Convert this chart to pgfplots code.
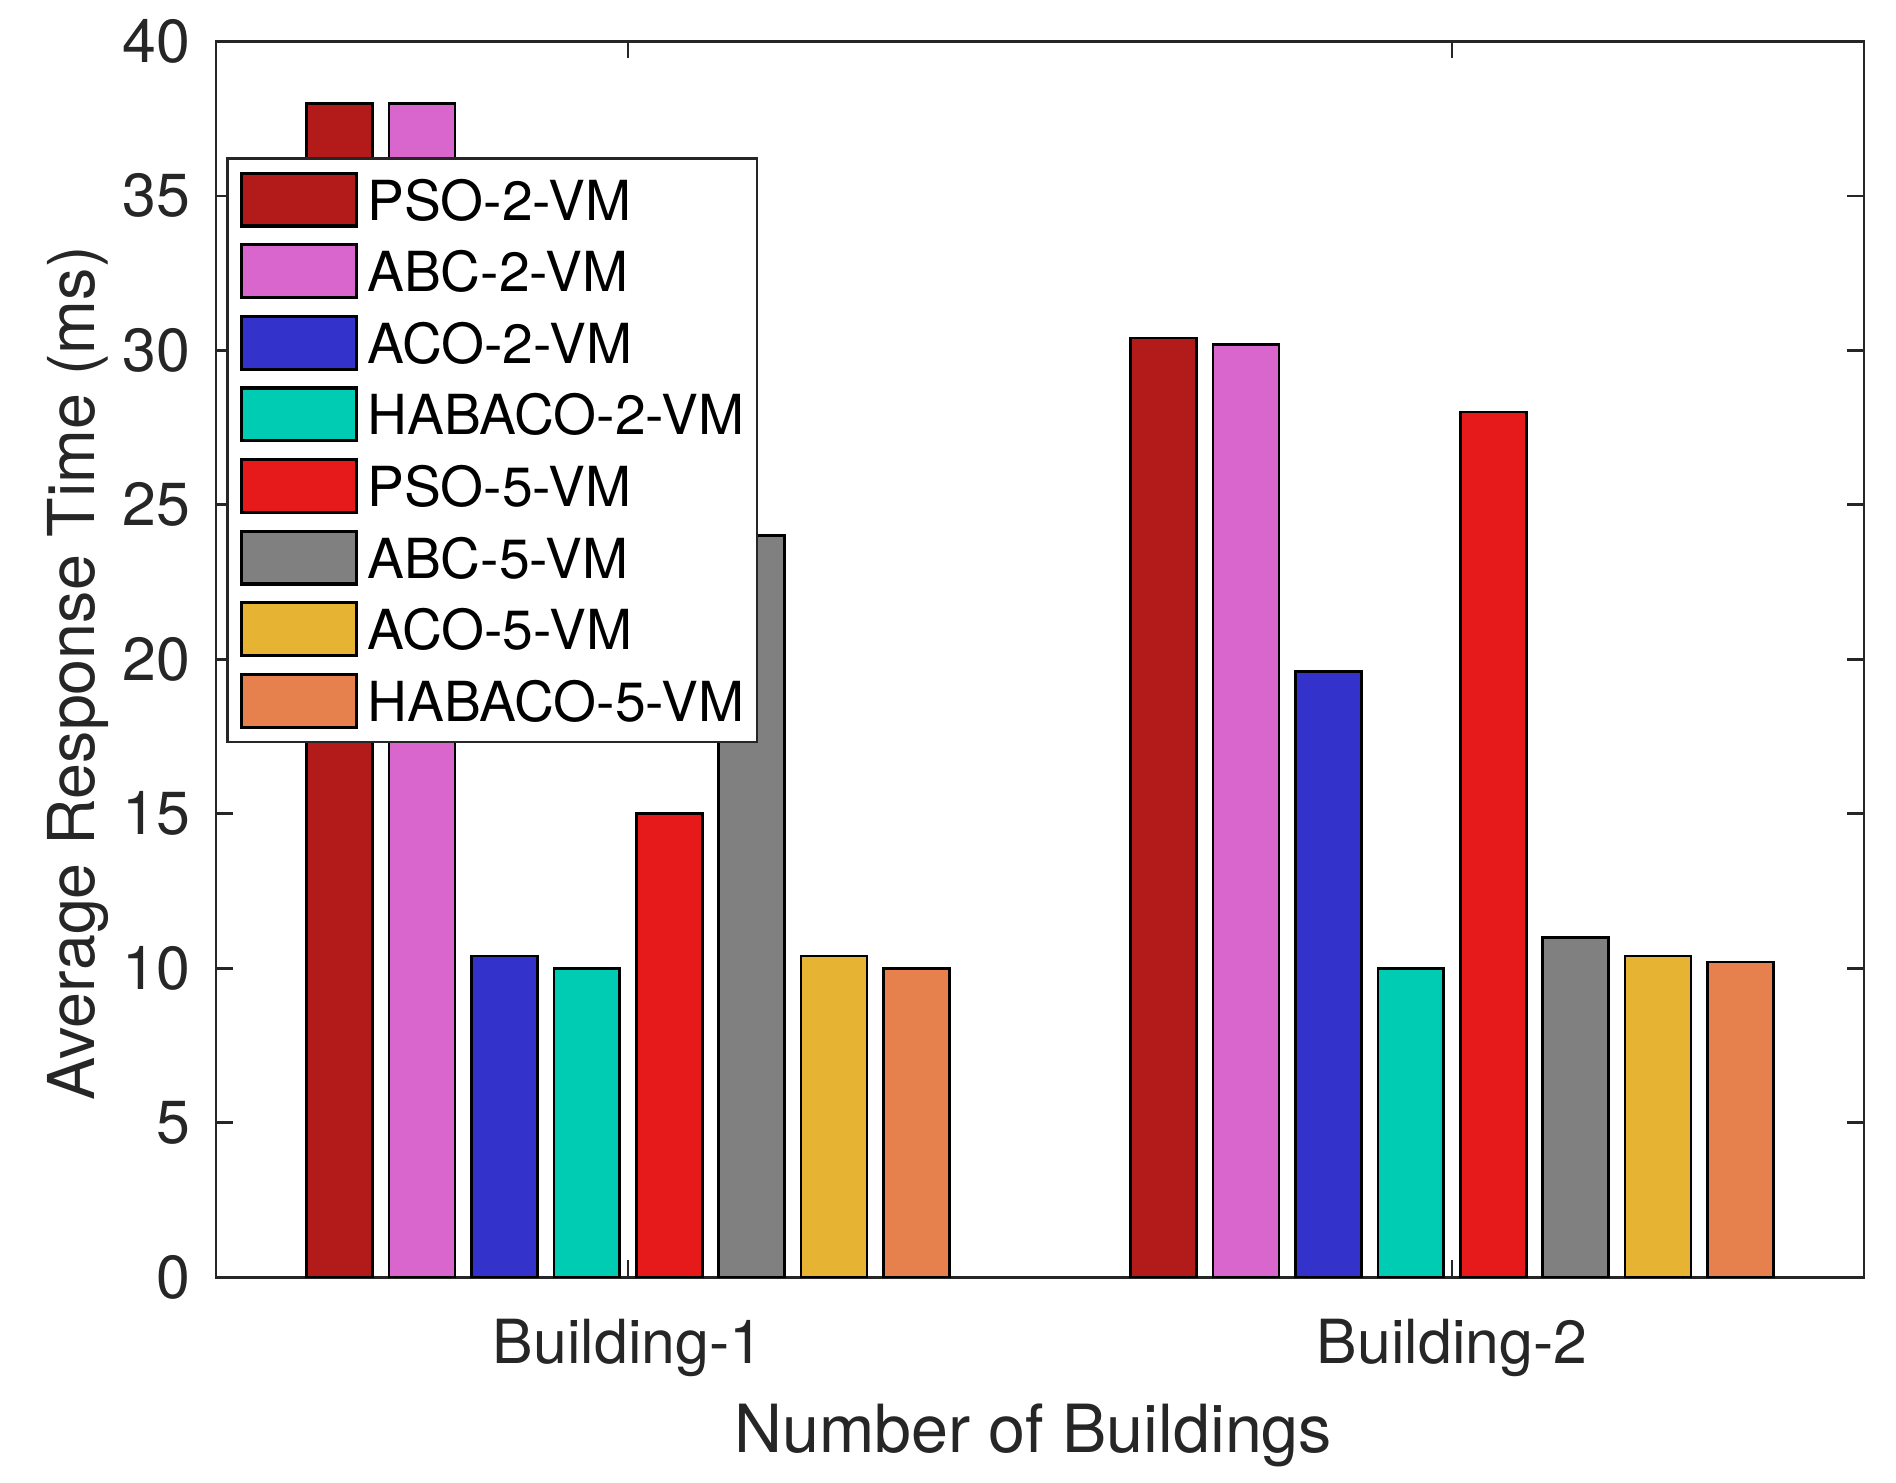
\documentclass[border=0pt]{standalone}
\usepackage{fontspec}
\setmainfont{TeX Gyre Heros}
\usepackage{pgfplots}
\pgfplotsset{compat=1.18}
\definecolor{axgray}{RGB}{38,38,38}
\definecolor{c1}{RGB}{179,27,27}
\definecolor{c2}{RGB}{217,102,204}
\definecolor{c3}{RGB}{51,51,204}
\definecolor{c4}{RGB}{0,204,179}
\definecolor{c5}{RGB}{230,26,26}
\definecolor{c6}{RGB}{128,128,128}
\definecolor{c7}{RGB}{230,179,51}
\definecolor{c8}{RGB}{230,128,77}
\pgfplotsset{
  mybar/.style={ybar, bar width=0.08, draw=black, line width=0.67pt,
    legend image code/.code={\draw[##1, draw=black, line width=0.8pt] (0pt,-6.6pt) rectangle (28.7pt,6.6pt);}},
}
\begin{document}
\begin{tikzpicture}
\useasboundingbox (0,0) rectangle (474pt,370.5pt);
\begin{axis}[
  at={(54pt,51.2pt)}, anchor=south west,
  scale only axis, width=412pt, height=308.95pt,
  xmin=0.5, xmax=2.5, ymin=0, ymax=40,
  xtick={1,2}, xticklabels={Building-1,Building-2},
  ytick={0,5,...,40},
  tick align=inside,
  major tick length=4.2pt,
  axis line style={axgray, line width=0.67pt},
  every tick/.style={axgray, line width=0.67pt},
  tick label style={font=\fontsize{15.2}{18}\selectfont, text=axgray, inner sep=0pt},
  /pgf/number format/assume math mode=true,
  yticklabel style={anchor=east, xshift=-6.3pt},
  xticklabel style={anchor=north, yshift=-10.25pt},
  xlabel={Number of Buildings},
  ylabel={Average Response Time (ms)},
  label style={text=axgray, inner sep=0pt},
  xlabel style={font=\fontsize{16.6}{20}\selectfont, at={(axis description cs:0.5,-0.1015)}, anchor=north, xshift=-1.7pt},
  ylabel style={font=\fontsize{16.15}{20}\selectfont, at={(axis description cs:-0.1027,0.4887)}, anchor=north},
  legend cell align=left,
  legend style={at={(axis description cs:0,1)}, anchor=north west,
    xshift=2.6pt, yshift=-28.9pt,
    draw=axgray, line width=0.67pt, fill=white,
    inner xsep=3.1pt, inner ysep=3.3pt,
    row sep=3.9pt, column sep=2.3pt,
    font=\fontsize{13.8}{16}\selectfont, text=black,
    nodes={inner sep=0pt, text depth=0pt}},
]
\addplot[mybar, bar shift=-0.35, fill=c1] coordinates {(1,38) (2,30.4)};
\addlegendentry{PSO-2-VM}
\addplot[mybar, bar shift=-0.25, fill=c2] coordinates {(1,38) (2,30.2)};
\addlegendentry{ABC-2-VM}
\addplot[mybar, bar shift=-0.15, fill=c3] coordinates {(1,10.4) (2,19.6)};
\addlegendentry{ACO-2-VM}
\addplot[mybar, bar shift=-0.05, fill=c4] coordinates {(1,10) (2,10)};
\addlegendentry{HABACO-2-VM}
\addplot[mybar, bar shift=0.05, fill=c5] coordinates {(1,15) (2,28)};
\addlegendentry{PSO-5-VM}
\addplot[mybar, bar shift=0.15, fill=c6] coordinates {(1,24) (2,11)};
\addlegendentry{ABC-5-VM}
\addplot[mybar, bar shift=0.25, fill=c7] coordinates {(1,10.4) (2,10.4)};
\addlegendentry{ACO-5-VM}
\addplot[mybar, bar shift=0.35, fill=c8] coordinates {(1,10) (2,10.2)};
\addlegendentry{HABACO-5-VM}
\end{axis}
\end{tikzpicture}
\end{document}
